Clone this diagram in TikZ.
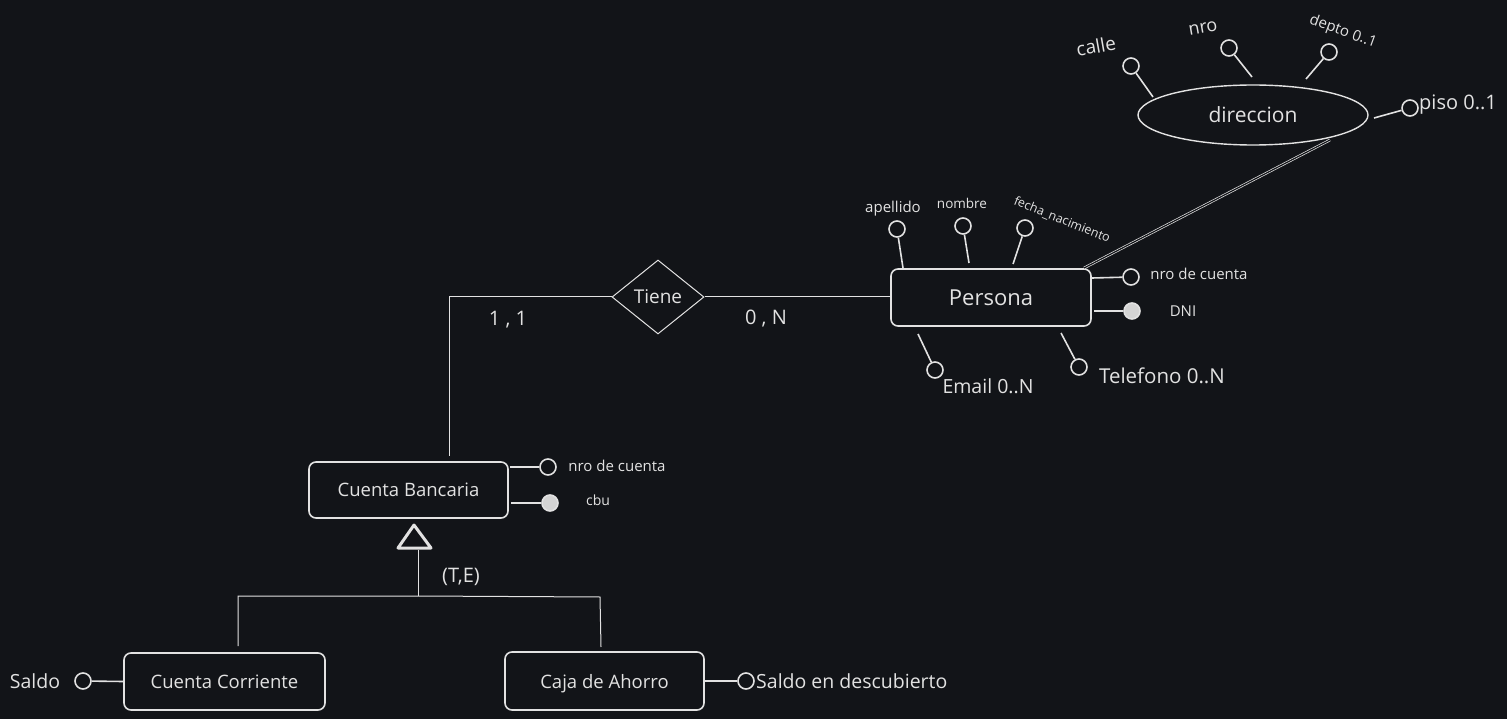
\documentclass[tikz,border=0pt]{standalone}
\usepackage{fontspec}
\setmainfont{Open Sans}
\usetikzlibrary{shapes.geometric}
\definecolor{bg}{RGB}{18,20,24}
\definecolor{ink}{RGB}{226,226,226}
\definecolor{keyfill}{RGB}{212,212,212}
\begin{document}
\begin{tikzpicture}[x=1pt,y=-1pt,
  every node/.style={text=ink},
  ent/.style={draw=ink, line width=1.6pt, rounded corners=7pt, fill=bg, inner sep=0pt, text depth=0pt},
  att/.style={circle, draw=ink, line width=1.6pt, minimum size=16pt, inner sep=0pt},
  keyatt/.style={att, fill=keyfill},
  con/.style={draw=ink, line width=1.6pt},
  rel/.style={draw=ink, line width=1pt},
  lbl/.style={inner sep=0pt},
  fsz/.style={font=\fontsize{#1}{#1}\selectfont}]
\fill[bg] (0,0) rectangle (1507,719);
\useasboundingbox (0,0) rectangle (1507,719);

% ---------- entities ----------
\node[ent, minimum width=200pt, minimum height=57pt, fsz=22] (persona) at (991,297.5) {Persona};
\node[ent, minimum width=199pt, minimum height=56pt, fsz=18.5] (cb) at (408.5,490) {Cuenta Bancaria};
\node[ent, minimum width=201pt, minimum height=57pt, fsz=18.5] (cc) at (224.5,681.5) {Cuenta Corriente};
\node[ent, minimum width=199pt, minimum height=58pt, fsz=18.5] (ca) at (604.5,681) {Caja de Ahorro};

% ---------- relationship ----------
\node[diamond, draw=ink, line width=1pt, inner sep=0pt, minimum width=92pt, minimum height=74pt, fsz=19] (tiene) at (658,297) {Tiene};

% ---------- composite attribute ----------
\node[ellipse, draw=ink, line width=1.4pt, minimum width=230pt, minimum height=60pt, inner sep=0pt, fsz=21] (dir) at (1253,115) {direccion};

% ---------- relationship connectors ----------
\draw[rel] (tiene.east) -- (persona.west |- tiene.east);
\coordinate (corner) at (449,297);
\coordinate (cbtop) at (449,456);
\draw[rel] (tiene.west) -- (corner) -- (cbtop);
\node[lbl, fsz=20] (card11) at (508,320) {1 , 1};
\node[lbl, fsz=20] (card0n) at (766,319) {0 , N};

% direccion to Persona (double line)
\coordinate (dirlow) at (1330,140);
\coordinate (perstr) at (1084,268);
\draw[draw=ink, double=bg, double distance=1.2pt, line width=0.7pt] (dirlow) -- (perstr);

% ---------- Persona attributes ----------
\node[att] (apeC) at (897,229) {};
\node[lbl, fsz=15] (apeL) at (893,209) {apellido};
\coordinate (apeP) at (903,268);
\draw[con] (apeP) -- (apeC);

\node[att] (nomC) at (963,226) {};
\node[lbl, fsz=13.5] (nomL) at (962,203) {nombre};
\coordinate (nomP) at (969,263);
\draw[con] (nomP) -- (nomC);

\node[att] (fecC) at (1025,228) {};
\node[lbl, fsz=12.5, rotate=-22] (fecL) at (1062,220) {fecha\_nacimiento};
\coordinate (fecP) at (1013,264);
\draw[con] (fecP) -- (fecC);

\node[att] (pnroC) at (1131,277) {};
\node[lbl, fsz=15] (pnroL) at (1199,274) {nro de cuenta};
\coordinate (pnroP) at (1092,278);
\draw[con] (pnroP) -- (pnroC);

\node[keyatt] (dniC) at (1132,311) {};
\node[lbl, fsz=15] (dniL) at (1183,311) {DNI};
\coordinate (dniP) at (1094,311);
\draw[con] (dniP) -- (dniC);

\node[att] (emC) at (935,370) {};
\node[lbl, fsz=19.5] (emL) at (988,386) {Email 0..N};
\coordinate (emP) at (918,334);
\draw[con] (emP) -- (emC);

\node[att] (telC) at (1079,367) {};
\node[lbl, fsz=20.5] (telL) at (1162,376) {Telefono 0..N};
\coordinate (telP) at (1061,333);
\draw[con] (telP) -- (telC);

% ---------- direccion attributes ----------
\node[att] (calC) at (1131,66) {};
\node[lbl, fsz=19, rotate=10] (calL) at (1096,46) {calle};
\coordinate (calP) at (1153,97);
\draw[con] (calP) -- (calC);

\node[att] (nroC) at (1229,48) {};
\node[lbl, fsz=18, rotate=10] (nroL) at (1203,28) {nro};
\coordinate (nroP) at (1252,77);
\draw[con] (nroP) -- (nroC);

\node[att] (depC) at (1329,52) {};
\node[lbl, fsz=15, rotate=-20] (depL) at (1343,32) {depto 0..1};
\coordinate (depP) at (1306,79);
\draw[con] (depP) -- (depC);

\node[att] (pisC) at (1410,108) {};
\node[lbl, fsz=20, anchor=west] (pisL) at (1419,105) {piso 0..1};
\coordinate (pisP) at (1374,118);
\draw[con] (pisP) -- (pisC);

% ---------- Cuenta Bancaria attributes ----------
\node[att] (cnroC) at (548,467) {};
\node[lbl, fsz=15] (cnroL) at (617,466) {nro de cuenta};
\coordinate (cnroP) at (510,467);
\draw[con] (cnroP) -- (cnroC);

\node[keyatt] (cbuC) at (550,503) {};
\node[lbl, fsz=14] (cbuL) at (598,500) {cbu};
\coordinate (cbuP) at (511,503);
\draw[con] (cbuP) -- (cbuC);

% ---------- specialization ----------
\coordinate (triA) at (414,525);
\coordinate (triB) at (398,548);
\coordinate (triC) at (431,548);
\draw[draw=ink, line width=3pt, line join=round] (triA) -- (triB) -- (triC) -- cycle;
\coordinate (tri) at (418,549.5);
\coordinate (split) at (418,596);
\draw[rel] (tri) -- (split);
\node[lbl, fsz=20] (te) at (461,577) {(T,E)};
\coordinate (spL) at (238,596);
\coordinate (spR) at (600,597);
\coordinate (ccTop) at (238,646);
\coordinate (caTop) at (601,647);
\draw[rel] (ccTop) -- (spL) -- (split) -- (spR) -- (caTop);

% ---------- subclass attributes ----------
\node[att] (salC) at (83,681) {};
\node[lbl, fsz=19.5] (salL) at (35,681) {Saldo};
\draw[con] (cc.west) -- (salC);

\node[att] (sdC) at (746,681) {};
\node[lbl, fsz=19.5, anchor=west] (sdL) at (756,681) {Saldo en descubierto};
\draw[con] (ca.east) -- (sdC);
\end{tikzpicture}
\end{document}
